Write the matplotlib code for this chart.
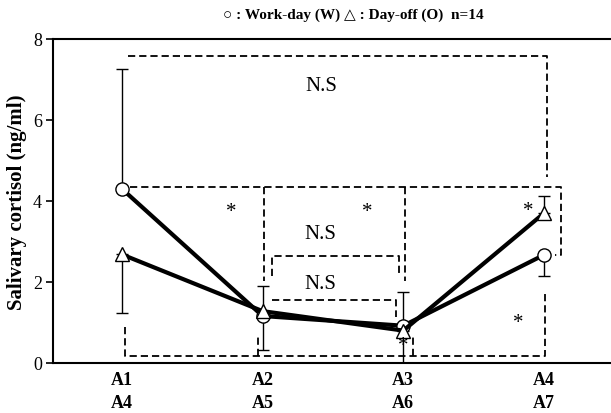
import matplotlib
matplotlib.use("Agg")
import matplotlib.pyplot as plt
import numpy as np

# Sampling points (work-day / day-off labels)
categories = ["A1\nA4", "A2\nA5", "A3\nA6", "A4\nA7"]

# Salivary cortisol (ng/ml), mean values
workday = [4.30, 1.16, 0.92, 2.67]
dayoff = [2.68, 1.28, 0.80, 3.70]

# One-sided SD bars (lower, upper)
workday_err_low = [0.00, 0.84, 0.00, 0.52]
workday_err_up = [2.95, 0.00, 0.83, 0.00]
dayoff_err_low = [1.45, 0.00, 0.80, 0.00]
dayoff_err_up = [0.00, 0.62, 0.00, 0.42]

# Significance brackets as dashed polylines (x in category index, y in ng/ml)
brackets = [
    [(0.04, 7.57), (3.02, 7.57), (3.02, 4.60)],
    [(0.06, 4.35), (3.12, 4.35), (3.12, 2.67), (3.08, 2.67)],
    [(1.01, 4.35), (1.01, 2.03)],
    [(2.01, 4.35), (2.01, 2.03)],
    [(1.07, 2.16), (1.07, 2.63), (1.97, 2.63), (1.97, 2.16)],
    [(1.07, 1.56), (1.95, 1.56), (1.95, 1.14)],
    [(0.02, 0.89), (0.02, 0.18), (3.01, 0.18), (3.01, 1.75)],
    [(0.97, 0.18), (0.97, 0.72)],
    [(2.07, 0.18), (2.07, 0.68)],
]

# Annotation text positions
stars = [(0.78, 3.73), (1.74, 3.75), (2.89, 3.76), (2.82, 1.01), (2.0, 0.43)]
ns_labels = [(1.42, 6.84), (1.41, 3.19), (1.41, 1.96)]

plt.rcParams["font.family"] = ["Liberation Serif", "DejaVu Sans"]

fig = plt.figure(figsize=(6.11, 4.14), dpi=100)
ax = fig.add_axes([0.0867, 0.1208, 0.9133, 0.7826])

x = np.arange(len(categories))

for seg in brackets:
    xs, ys = zip(*seg)
    ax.plot(xs, ys, color="black", lw=1.3, linestyle=(0, (4, 2.2)), zorder=1)

ax.errorbar(x, workday, yerr=[workday_err_low, workday_err_up], fmt="none",
            ecolor="black", elinewidth=1.0, capsize=4, capthick=1.0, zorder=2)
ax.errorbar(x, dayoff, yerr=[dayoff_err_low, dayoff_err_up], fmt="none",
            ecolor="black", elinewidth=1.0, capsize=4, capthick=1.0, zorder=2)

ax.plot(x, workday, color="black", lw=3.0, marker="o", markersize=9.5,
        markerfacecolor="white", markeredgecolor="black", markeredgewidth=1.0, zorder=3)
ax.plot(x, dayoff, color="black", lw=3.0, marker="^", markersize=10,
        markerfacecolor="white", markeredgecolor="black", markeredgewidth=1.0, zorder=4)

for sx, sy in stars:
    ax.text(sx, sy, "*", ha="center", va="center", fontsize=15, zorder=5)
for nx, ny in ns_labels:
    ax.text(nx, ny, "N.S", ha="center", va="center", fontsize=15, zorder=5)

ax.set_xlim(-0.49, 3.476)
ax.set_ylim(0, 8)
ax.set_yticks([0, 2, 4, 6, 8])
ax.set_xticks(x)
ax.set_xticklabels(categories, fontweight="bold", fontsize=13, linespacing=1.4)
ax.tick_params(axis="x", length=0, pad=6)
ax.tick_params(axis="y", direction="out", length=5, width=1.2, labelsize=13, pad=3)

ax.spines["right"].set_visible(False)
for s in ("left", "bottom", "top"):
    ax.spines[s].set_linewidth(1.5)

ax.set_ylabel("Salivary cortisol (ng/ml)", fontweight="bold", fontsize=15, labelpad=4)
fig.text(0.578, 0.963, "○ : Work-day (W) △ : Day-off (O)  n=14",
         ha="center", va="center", fontweight="bold", fontsize=11,
         family=["Liberation Serif", "DejaVu Sans"])

fig.savefig("out.png", dpi=100)
